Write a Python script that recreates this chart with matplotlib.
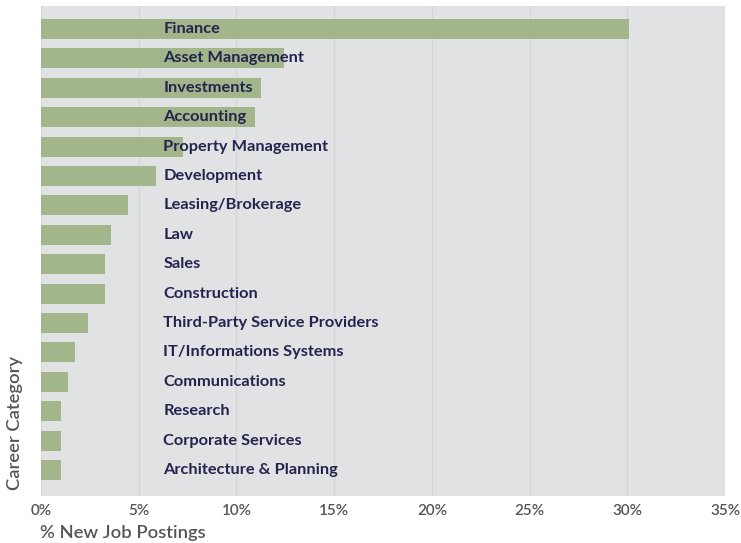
import matplotlib.pyplot as plt

plt.rcParams['font.family'] = ['Lato', 'DejaVu Sans']

categories = [
    'Finance', 'Asset Management', 'Investments', 'Accounting',
    'Property Management', 'Development', 'Leasing/Brokerage', 'Law',
    'Sales', 'Construction', 'Third-Party Service Providers',
    'IT/Informations Systems', 'Communications', 'Research',
    'Corporate Services', 'Architecture & Planning',
]
share = [30.1, 12.45, 11.26, 10.97, 7.28, 5.87, 4.44, 3.57,
         3.27, 3.27, 2.40, 1.73, 1.38, 1.02, 1.02, 1.02]
xticks = [0, 5, 10, 15, 20, 25, 30, 35]

bar_color = '#a3b58a'
bg_color = '#e1e2e4'
grid_color = '#d4d5d8'
label_color = '#24244f'
axis_text = '#555555'

fig = plt.figure(figsize=(7.41, 5.43), dpi=100, facecolor='white')
ax = fig.add_axes([41 / 741, 47 / 543, 684 / 741, 490 / 543])
ax.set_facecolor(bg_color)

ypos = list(range(len(categories)))
ax.barh(ypos, share, height=0.68, color=bar_color, zorder=3)

# category names sit inside the plot, left aligned
for y, name in zip(ypos, categories):
    ax.text(6.25, y, name, ha='left', va='center', fontsize=11.8,
            fontweight='bold', color=label_color, zorder=4)

ax.set_xlim(0, 35)
ax.set_ylim(15.88, -0.78)
ax.set_xticks(xticks)
ax.set_xticklabels([f'{t}%' for t in xticks], fontweight='semibold')
ax.set_yticks([])
ax.tick_params(axis='x', length=0, pad=6, labelsize=11, labelcolor=axis_text)
ax.grid(axis='x', color=grid_color, linewidth=0.9, zorder=1)
for s in ax.spines.values():
    s.set_visible(False)

fig.text(40 / 741, 1 - 533 / 543, '% New Job Postings', ha='left', va='center',
         fontsize=13.2, fontweight='semibold', color=axis_text)
fig.text(15 / 741, 1 - 490 / 543, 'Career Category', ha='center', va='bottom',
         rotation=90, fontsize=13.2, fontweight='semibold', color=axis_text)

fig.savefig('out.png', dpi=100)
